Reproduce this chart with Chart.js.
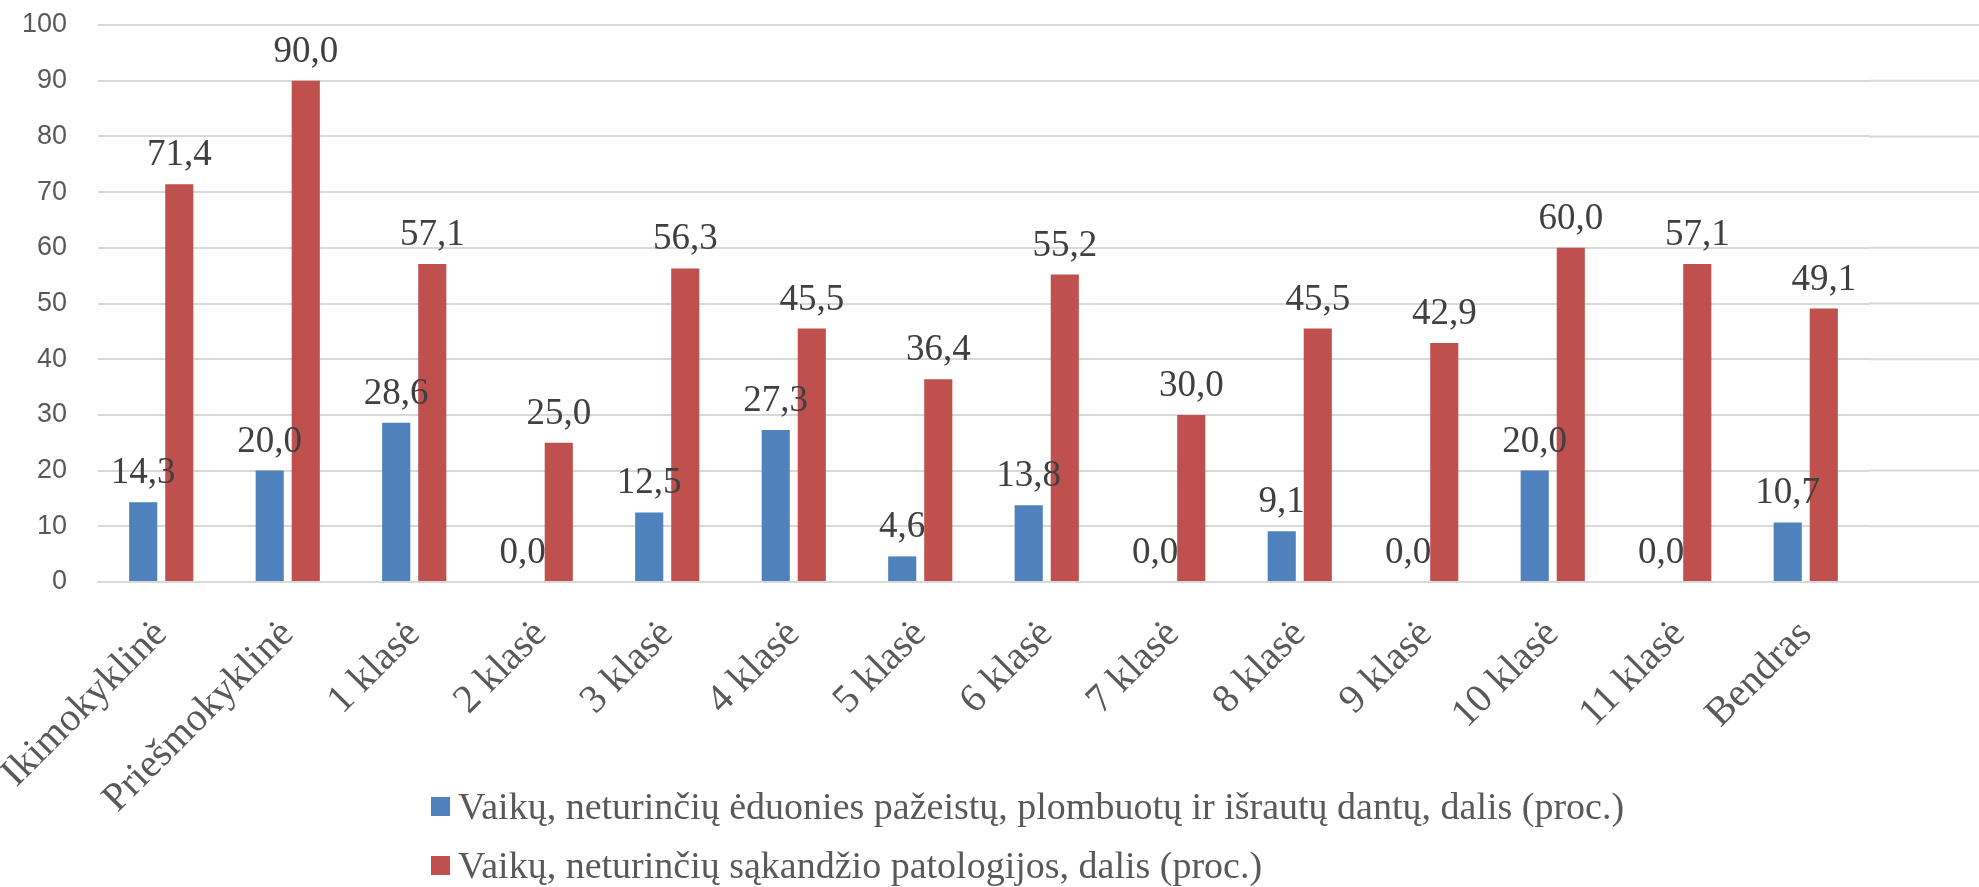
<!DOCTYPE html>
<html>
<head>
<meta charset="utf-8">
<script src="https://cdn.jsdelivr.net/npm/chart.js@4.4.1/dist/chart.umd.min.js"></script>
<style>
  html, body { margin: 0; padding: 0; background: #fff; overflow: hidden; width: 1979px; height: 887px; }
  #wrap { position: relative; width: 1979px; height: 887px; }
  #legend { position: absolute; left: 431px; top: 777px; font-family: "Liberation Serif", "Times New Roman", serif;
            font-size: 38px; color: #595959; line-height: 59px; white-space: nowrap; }
  #legend .sw { display: inline-block; width: 19px; height: 19px; margin-right: 8px; vertical-align: 3px; }
</style>
</head>
<body>
<div id="wrap">
  <canvas id="barChart" width="1979" height="887"></canvas>
  <div id="legend"></div>
</div>
<script>
    var kategorijos = [
        "Ikimokyklinė", "Priešmokyklinė", "1 klasė", "2 klasė", "3 klasė", "4 klasė", "5 klasė",
        "6 klasė", "7 klasė", "8 klasė", "9 klasė", "10 klasė", "11 klasė", "Bendras"
    ];

    // be ėduonies pažeistų, plombuotų ir išrautų dantų
    var beEduonies = [14.3, 20.0, 28.6, 0.0, 12.5, 27.3, 4.6, 13.8, 0.0, 9.1, 0.0, 20.0, 0.0, 10.7];

    // be sąkandžio patologijos
    var beSakandzio = [71.4, 90.0, 57.1, 25.0, 56.3, 45.5, 36.4, 55.2, 30.0, 45.5, 42.9, 60.0, 57.1, 49.1];

    var yTicks = [0, 10, 20, 30, 40, 50, 60, 70, 80, 90, 100];

    var serieja1 = "Vaikų, neturinčių ėduonies pažeistų, plombuotų ir išrautų dantų, dalis (proc.)";
    var serieja2 = "Vaikų, neturinčių sąkandžio patologijos, dalis (proc.)";

    var tinkloSpalva = '#d9d9d9';

    // tinklelio linijos tęsiasi iki paveikslo krašto (kaip originale)
    var tinklelis = {
        id: 'tinklelis',
        beforeDatasetsDraw: function (chart) {
            var ctx = chart.ctx, a = chart.chartArea, y = chart.scales.y;
            ctx.save();
            ctx.strokeStyle = tinkloSpalva;
            ctx.lineWidth = 2;
            yTicks.forEach(function (v) {
                var py = y.getPixelForValue(v);
                ctx.beginPath();
                ctx.moveTo(a.right, py);
                ctx.lineTo(chart.width, py);
                ctx.stroke();
            });
            ctx.restore();
        }
    };

    // reikšmės virš stulpelių
    var reiksmes = {
        id: 'reiksmes',
        afterDatasetsDraw: function (chart) {
            var ctx = chart.ctx;
            ctx.save();
            ctx.font = '37px "Liberation Serif", "Times New Roman", serif';
            ctx.fillStyle = '#404040';
            ctx.textAlign = 'center';
            ctx.textBaseline = 'alphabetic';
            chart.data.datasets.forEach(function (ds, i) {
                chart.getDatasetMeta(i).data.forEach(function (bar, j) {
                    var txt = ds.data[j].toFixed(1).replace('.', ',');
                    ctx.fillText(txt, bar.x, bar.y - 19);
                });
            });
            ctx.restore();
        }
    };

    var ctx = document.getElementById('barChart').getContext('2d');

    var stulpeliai = new Chart(ctx, {
        type: 'bar',
        data: {
            labels: kategorijos,
            datasets: [
                { label: serieja1, data: beEduonies, backgroundColor: '#4f81bd' },
                { label: serieja2, data: beSakandzio, backgroundColor: '#c0504d' }
            ]
        },
        options: {
            responsive: false,
            animation: false,
            devicePixelRatio: 1,
            categoryPercentage: 0.57,
            barPercentage: 0.78,
            layout: { padding: { top: 25, right: 110, left: 0, bottom: 0 } },
            plugins: {
                legend: { display: false },
                tooltip: { enabled: false }
            },
            scales: {
                x: {
                    grid: { display: false, drawTicks: false },
                    border: { color: tinkloSpalva, width: 2 },
                    ticks: {
                        color: '#595959',
                        font: { family: '"Liberation Serif", "Times New Roman", serif', size: 40 },
                        minRotation: 45,
                        maxRotation: 45,
                        padding: 29,
                        labelOffset: 0,
                        autoSkip: false
                    },
                    afterFit: function (scale) {
                        scale.height = 305;
                        scale.paddingLeft = 0;
                        scale.paddingRight = 0;
                    }
                },
                y: {
                    min: 0,
                    max: 100,
                    afterBuildTicks: function (scale) {
                        scale.ticks = yTicks.map(function (v) { return { value: v }; });
                    },
                    grid: { color: tinkloSpalva, lineWidth: 2, drawTicks: false },
                    border: { display: false },
                    ticks: {
                        color: '#595959',
                        font: { family: '"Liberation Sans", Arial, sans-serif', size: 27 },
                        padding: 31
                    },
                    afterFit: function (scale) {
                        scale.width = 98;
                        scale.paddingTop = 0;
                        scale.paddingBottom = 0;
                    }
                }
            }
        },
        plugins: [tinklelis, reiksmes]
    });

    var legenda = document.getElementById('legend');
    stulpeliai.data.datasets.forEach(function (ds) {
        var row = document.createElement('div');
        row.innerHTML = '<span class="sw" style="background:' + ds.backgroundColor + '"></span>' + ds.label;
        legenda.appendChild(row);
    });
</script>
</body>
</html>
